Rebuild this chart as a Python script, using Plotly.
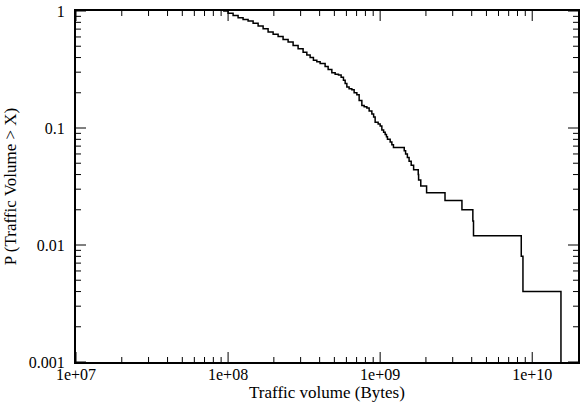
import plotly.graph_objects as go

# Traffic volume (bytes) at each step of the CCDF, and P(Traffic Volume > X) after the step
volume_bytes = [
    9.27e7, 1.00e8, 1.079e8, 1.164e8, 1.255e8, 1.354e8, 1.461e8, 1.576e8, 1.70e8, 1.833e8,
    1.978e8, 2.133e8, 2.30e8, 2.482e8, 2.677e8, 2.887e8, 3.114e8, 3.295e8, 3.464e8, 3.641e8,
    3.833e8, 4.03e8, 4.346e8, 4.55e8, 4.812e8, 5.059e8, 5.32e8, 5.54e8, 5.737e8, 5.886e8,
    6.04e8, 6.25e8, 6.513e8, 6.745e8, 7.027e8, 7.276e8, 7.58e8, 7.848e8, 8.177e8, 8.466e8,
    8.82e8, 9.06e8, 9.27e8, 9.70e8, 1.0e9, 1.026e9, 1.054e9, 1.079e9, 1.10e9, 1.117e9,
    1.164e9, 1.194e9, 1.223e9, 1.44e9, 1.47e9, 1.51e9, 1.55e9, 1.60e9, 1.66e9, 1.78e9,
    1.79e9, 1.85e9, 2.02e9, 2.67e9, 3.45e9, 4.07e9, 4.11e9, 8.47e9, 8.69e9, 1.545e10,
]
ccdf = [
    1.0, 0.956, 0.916, 0.876, 0.848, 0.820, 0.784, 0.744, 0.704, 0.660,
    0.632, 0.604, 0.572, 0.544, 0.508, 0.476, 0.444, 0.420, 0.400, 0.380,
    0.368, 0.356, 0.336, 0.316, 0.296, 0.288, 0.284, 0.272, 0.256, 0.240,
    0.224, 0.216, 0.212, 0.200, 0.192, 0.172, 0.156, 0.152, 0.148, 0.140,
    0.132, 0.124, 0.112, 0.108, 0.104, 0.096, 0.092, 0.088, 0.084, 0.080,
    0.076, 0.072, 0.068, 0.064, 0.060, 0.056, 0.052, 0.048, 0.044, 0.040,
    0.036, 0.032, 0.028, 0.024, 0.020, 0.016, 0.012, 0.008, 0.004, 0.001,
]

x_tickvals = [1e7, 1e8, 1e9, 1e10]
x_ticktext = ["1e+07", "1e+08", "1e+09", "1e+10"]
y_tickvals = [1, 0.1, 0.01, 0.001]
y_ticktext = ["1", "0.1", "0.01", "0.001"]

x_minor = [m * 10 ** e for e in range(7, 11) for m in range(2, 10)]
y_minor = [m * 10 ** e for e in range(-3, 0) for m in range(2, 10)]

x_range = [7, 10.301]
y_range = [-3, 0]
x_max = 10 ** x_range[1]

font_family = "Liberation Serif"

fig = go.Figure()
fig.add_trace(go.Scatter(
    x=volume_bytes, y=ccdf, mode="lines",
    line=dict(color="black", width=1.5, shape="hv"),
    showlegend=False, hoverinfo="skip",
))

axis_common = dict(
    type="log",
    showline=True, linecolor="black", linewidth=2, mirror=True,
    ticks="", showgrid=False, zeroline=False,
    tickfont=dict(family=font_family, size=16, color="black"),
)

fig.update_layout(
    xaxis=dict(
        **axis_common,
        range=x_range,
        tickmode="array", tickvals=x_tickvals, ticktext=x_ticktext,
        ticklabelstandoff=-3,
        title=dict(text="Traffic volume (Bytes)", standoff=3,
                   font=dict(family=font_family, size=17, color="black")),
    ),
    yaxis=dict(
        **axis_common,
        range=y_range,
        tickmode="array", tickvals=y_tickvals, ticktext=y_ticktext,
        ticklabelstandoff=6,
        title=dict(text="P (Traffic Volume > X)", standoff=8,
                   font=dict(family=font_family, size=17, color="black")),
    ),
    width=585, height=403,
    margin=dict(l=76, r=7, t=11, b=41, autoexpand=False),
    paper_bgcolor="white", plot_bgcolor="white",
    font=dict(family=font_family, color="black"),
)

# inward tick marks on all four sides (major 10 px, minor 5 px)
tick_line = dict(color="black", width=1)
for vals, length in ((x_tickvals, 10), (x_minor, 5)):
    for v in vals:
        if v > x_max:
            continue
        for anchor, sign in ((0, 1), (1, -1)):
            fig.add_shape(type="line", xref="x", yref="paper",
                          ysizemode="pixel", yanchor=anchor,
                          x0=v, x1=v, y0=0, y1=sign * length,
                          line=tick_line, layer="above")
for vals, length in ((y_tickvals, 10), (y_minor, 5)):
    for v in vals:
        for anchor, sign in ((0, 1), (1, -1)):
            fig.add_shape(type="line", xref="paper", yref="y",
                          xsizemode="pixel", xanchor=anchor,
                          x0=0, x1=sign * length, y0=v, y1=v,
                          line=tick_line, layer="above")

fig.write_html("out.html", post_script="document.body.style.margin='0';",
               config={"displayModeBar": False})
